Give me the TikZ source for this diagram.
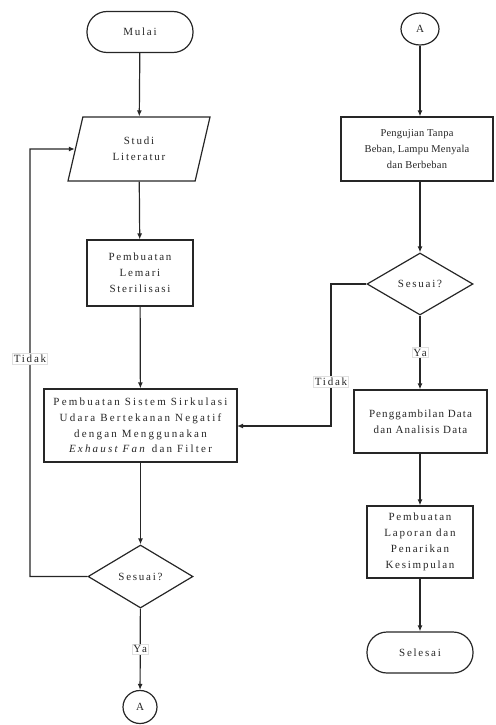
\documentclass[tikz,border=0pt]{standalone}
\usepackage{fontspec}
\setmainfont{Liberation Serif}[LetterSpace=16]
\usetikzlibrary{shapes.geometric,arrows.meta}
\begin{document}
\begin{tikzpicture}[x=1pt,y=-1pt,
  every node/.style={font=\fontsize{11}{16}\selectfont, align=center, inner sep=1pt, text=black!85},
  line/.style={draw=black!85, line width=1.2pt},
  arr/.style={line, -{Latex[length=6pt,width=5pt]}},
  term/.style={draw=black!85, line width=1.2pt, rounded corners=20pt, minimum width=106pt},
  proc/.style={draw=black!85, line width=1.2pt, rectangle},
  dec/.style={draw=black!85, line width=1.2pt, diamond, inner sep=0pt},
  conn/.style={draw=black!85, line width=1.2pt, ellipse, inner sep=0pt},
  lbl/.style={fill=white, draw=black!12, line width=0.4pt, inner sep=1.5pt}]
\useasboundingbox (0,0) rectangle (495,725);
% left column
\node[term, minimum height=41pt] (mulai) at (140,32) {Mulai};
\node[draw=black!85, line width=1.2pt, trapezium, trapezium left angle=60, trapezium right angle=120,
  trapezium stretches body, minimum width=142pt, minimum height=64pt] (studi) at (139,149) {Studi\\Literatur};
\node[proc, minimum width=106pt, minimum height=66pt] (lemari) at (140,273) {Pembuatan\\Lemari\\Sterilisasi};
\node[proc, minimum width=193pt, minimum height=73pt,
  font=\fontsize{11}{15.6}\selectfont\addfontfeature{LetterSpace=20}] (sistem) at (140.5,425.5)
  {Pembuatan Sistem Sirkulasi\\Udara Bertekanan Negatif\\dengan Menggunakan\\\textit{Exhaust Fan} dan Filter};
\node[dec, minimum width=105pt, minimum height=63pt] (ses1) at (140.5,576.5) {Sesuai?};
\node[conn, minimum width=34pt, minimum height=33pt] (a1) at (140,707) {A};
% right column
\node[conn, minimum width=38pt, minimum height=32pt] (a2) at (420,29) {A};
\node[proc, minimum width=152pt, minimum height=64pt,
  font=\fontsize{10.5}{16}\selectfont\addfontfeature{LetterSpace=2}] (uji) at (417,149)
  {Pengujian Tanpa\\Beban, Lampu Menyala\\dan Berbeban};
\node[dec, minimum width=106pt, minimum height=62pt] (ses2) at (420,284) {Sesuai?};
\node[proc, minimum width=133pt, minimum height=63pt,
  font=\fontsize{11}{16}\selectfont\addfontfeature{LetterSpace=10}] (ambil) at (420.5,421.5)
  {Penggambilan Data\\dan Analisis Data};
\node[proc, minimum width=106pt, minimum height=72pt] (lapor) at (420,542)
  {Pembuatan\\Laporan dan\\Penarikan\\Kesimpulan};
\node[term, minimum height=41pt] (selesai) at (420,652.5) {Selesai};
% helper coordinates
\coordinate (l1) at (30,576.5);
\coordinate (l2) at (30,149);
\coordinate (r1) at (331,284);
\coordinate (r2) at (331,426);
\coordinate (sisE) at (237,426);
% connectors
\draw[arr] (mulai) -- (studi);
\draw[arr] (studi) -- (lemari);
\draw[arr] (lemari) -- (sistem);
\draw[arr] (sistem) -- (ses1);
\draw[arr] (ses1) -- node[lbl, pos=0.5] {Ya} (a1);
\draw[arr] (ses1.west) -- (l1) -- node[lbl, pos=0.51] {Tidak} (l2) -- (studi.west);
\draw[arr] (a2) -- (uji.north -| a2);
\draw[arr] (uji.south -| ses2) -- (ses2);
\draw[arr] (ses2) -- node[lbl, pos=0.5] {Ya} (ambil.north -| ses2);
\draw[arr] (ambil.south -| lapor) -- (lapor);
\draw[arr] (lapor) -- (selesai);
\draw[arr] (ses2.west) -- (r1) -- node[lbl, pos=0.69] {Tidak} (r2) -- (sisE);
\end{tikzpicture}
\end{document}
